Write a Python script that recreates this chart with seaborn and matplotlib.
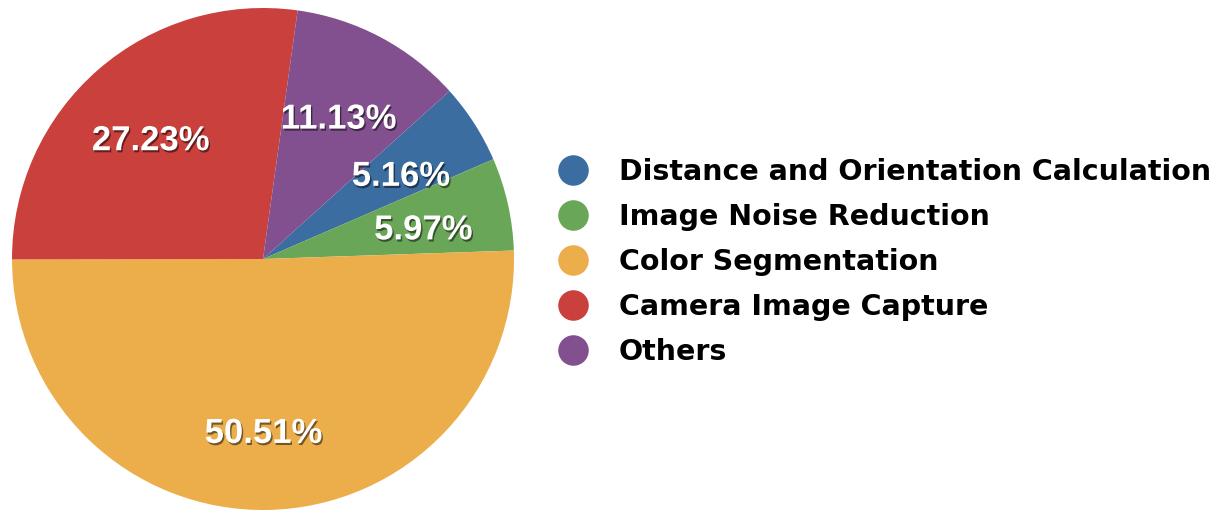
import matplotlib
matplotlib.use("Agg")
import matplotlib.pyplot as plt
import matplotlib.patheffects as pe
from matplotlib.lines import Line2D
import seaborn as sns

# Share of processing time per pipeline stage
categories = [
    "Distance and Orientation Calculation",
    "Image Noise Reduction",
    "Color Segmentation",
    "Camera Image Capture",
    "Others",
]
shares = [5.16, 5.97, 50.51, 27.23, 11.13]
colors = ["#3b6da0", "#6aa657", "#ebae4b", "#c9403c", "#83508f"]

sns.set_theme(style="white")
plt.rcParams["font.family"] = ["DejaVu Sans"]
palette = sns.color_palette(colors)

W, H = 1229, 511
fig = plt.figure(figsize=(W / 100, H / 100), dpi=100)
fig.patch.set_facecolor("white")

# pie centred at (263, 259) px with radius 251 px
cx, cy, r = 263, 259, 251
ax = fig.add_axes([(cx - r) / W, (H - cy - r) / H, 2 * r / W, 2 * r / H])

shadow = [pe.withSimplePatchShadow(offset=(1, -1.5), shadow_rgbFace="black", alpha=0.5)]

wedges, texts, autotexts = ax.pie(
    shares,
    colors=palette,
    startangle=42,
    counterclock=False,
    autopct="%.2f%%",
    pctdistance=0.665,
    wedgeprops=dict(linewidth=0),
    textprops=dict(color="white", fontsize=25, fontweight="bold",
                   family=["Liberation Sans", "DejaVu Sans"]),
)
for t in autotexts:
    x, y = t.get_position()
    t.set_position((x - 0.01, y - 0.03))
    t.set_path_effects(shadow)

ax.set_xlim(-1, 1)
ax.set_ylim(-1, 1)
ax.set_aspect("equal")
ax.axis("off")

handles = [
    Line2D([], [], linestyle="none", marker="o", markersize=22,
           markerfacecolor=c, markeredgewidth=0)
    for c in palette
]
leg = fig.legend(
    handles, categories,
    loc="center left",
    bbox_to_anchor=(531 / W, (H - 262) / H),
    frameon=False,
    prop=dict(weight="bold", size=20.5),
    handletextpad=1.04,
    labelspacing=0.6,
    handlelength=1.15,
)
for t in leg.get_texts():
    t.set_color("black")

fig.savefig("out.png", dpi=100, facecolor="white")
